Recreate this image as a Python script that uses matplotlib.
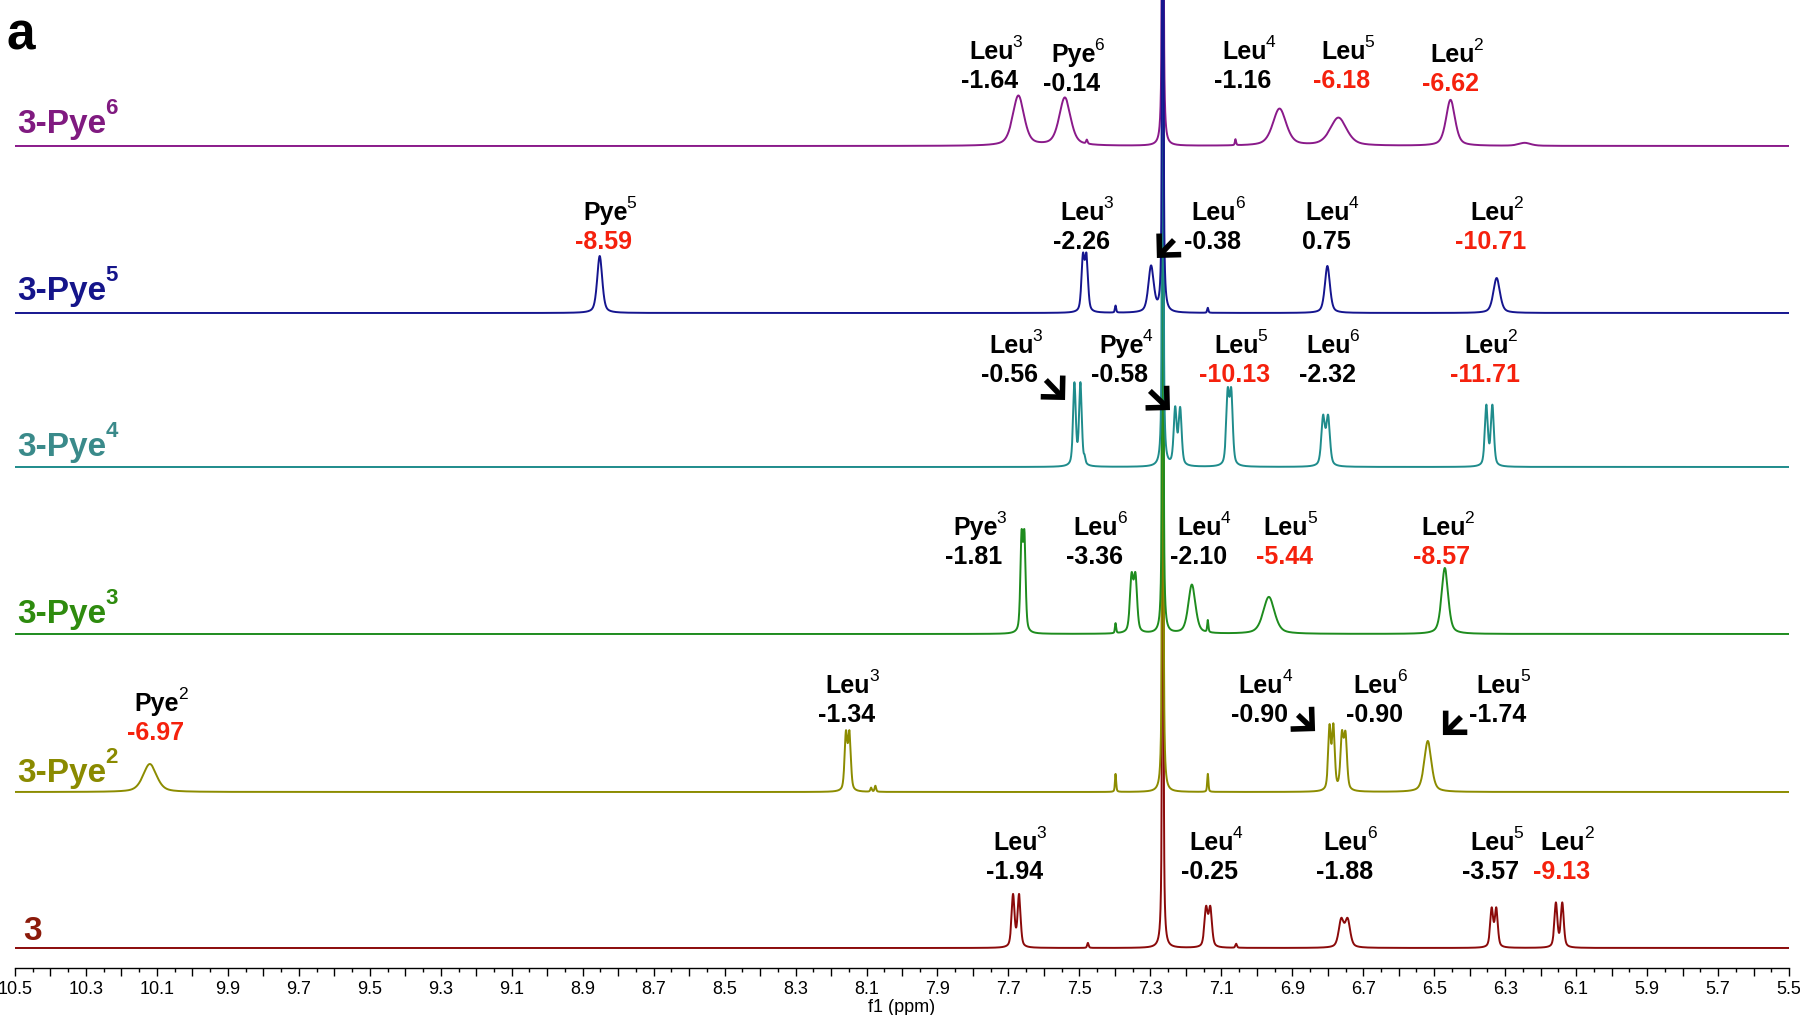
import numpy as np
import matplotlib
matplotlib.use('Agg')
import matplotlib.pyplot as plt
from matplotlib.patches import FancyArrowPatch
from matplotlib.ticker import MultipleLocator, FuncFormatter

plt.rcParams['font.family'] = ['Liberation Sans', 'DejaVu Sans']

#-- Peak tables: position (ppm), height, width (ppm)
#-- 3
ppm_3 = [7.687, 7.670, 7.476, 7.265, 7.143, 7.131, 7.058, 6.762, 6.744, 6.338, 6.325, 6.157, 6.139]
amp_3 = [52, 52, 5, 1500, 38, 38, 4, 27, 27, 38, 38, 44, 44]
fwhm_3 = [0.010, 0.010, 0.005, 0.003, 0.011, 0.011, 0.005, 0.017, 0.017, 0.010, 0.010, 0.010, 0.010]
#-- 3-Pye2
ppm_p2 = [10.12, 8.158, 8.148, 8.087, 8.075, 7.398, 7.265, 7.138, 6.795, 6.784, 6.760, 6.750, 6.518]
amp_p2 = [28, 56, 56, 4, 6, 18, 1500, 18, 62, 62, 53, 53, 51]
fwhm_p2 = [0.045, 0.009, 0.009, 0.005, 0.005, 0.004, 0.003, 0.004, 0.009, 0.009, 0.010, 0.010, 0.024]
#-- 3-Pye3
ppm_p3 = [7.663, 7.655, 7.398, 7.353, 7.342, 7.265, 7.183, 7.138, 6.966, 6.470]
amp_p3 = [92, 92, 10, 54, 54, 1500, 49, 12, 37, 66]
fwhm_p3 = [0.008, 0.008, 0.004, 0.011, 0.011, 0.003, 0.024, 0.004, 0.038, 0.022]
#-- 3-Pye4
ppm_p4 = [7.514, 7.497, 7.485, 7.265, 7.230, 7.216, 7.082, 7.072, 6.813, 6.799, 6.353, 6.336]
amp_p4 = [82, 82, 6, 1500, 56, 56, 70, 70, 48, 48, 60, 60]
fwhm_p4 = [0.009, 0.009, 0.005, 0.003, 0.010, 0.010, 0.010, 0.010, 0.012, 0.012, 0.010, 0.010]
#-- 3-Pye5
ppm_p5 = [8.852, 7.490, 7.480, 7.398, 7.298, 7.265, 7.138, 6.801, 6.324]
amp_p5 = [57, 53, 53, 7, 46, 1500, 5, 47, 35]
fwhm_p5 = [0.017, 0.010, 0.010, 0.004, 0.018, 0.003, 0.004, 0.017, 0.022]
#-- 3-Pye6
ppm_p6 = [7.672, 7.541, 7.479, 7.265, 7.060, 6.936, 6.770, 6.454, 6.245]
amp_p6 = [50, 48, 4, 1500, 6, 37, 28, 46, 3]
fwhm_p6 = [0.038, 0.038, 0.005, 0.003, 0.004, 0.045, 0.055, 0.030, 0.04]

#-- Assignments (residue, position) and shift changes
lab_3 = [('Leu', '3'), ('Leu', '4'), ('Leu', '6'), ('Leu', '5'), ('Leu', '2')]
dlt_3 = [-1.94, -0.25, -1.88, -3.57, -9.13]
lab_p2 = [('Pye', '2'), ('Leu', '3'), ('Leu', '4'), ('Leu', '6'), ('Leu', '5')]
dlt_p2 = [-6.97, -1.34, -0.90, -0.90, -1.74]
lab_p3 = [('Pye', '3'), ('Leu', '6'), ('Leu', '4'), ('Leu', '5'), ('Leu', '2')]
dlt_p3 = [-1.81, -3.36, -2.10, -5.44, -8.57]
lab_p4 = [('Leu', '3'), ('Pye', '4'), ('Leu', '5'), ('Leu', '6'), ('Leu', '2')]
dlt_p4 = [-0.56, -0.58, -10.13, -2.32, -11.71]
lab_p5 = [('Pye', '5'), ('Leu', '3'), ('Leu', '6'), ('Leu', '4'), ('Leu', '2')]
dlt_p5 = [-8.59, -2.26, -0.38, 0.75, -10.71]
lab_p6 = [('Leu', '3'), ('Pye', '6'), ('Leu', '4'), ('Leu', '5'), ('Leu', '2')]
dlt_p6 = [-1.64, -0.14, -1.16, -6.18, -6.62]

names = [('3', ''), ('3-Pye', '2'), ('3-Pye', '3'), ('3-Pye', '4'), ('3-Pye', '5'), ('3-Pye', '6')]

#-- Layout: vertical offsets, label places (ppm, baseline height), colours
offsets = [20, 176, 334, 501, 655, 822]
line_col = ['#8b0a0a', '#8c8c00', '#1e8c1e', '#1f8c8c', '#15158f', '#8a1a8a']
name_col = ['#8b1a0a', '#8a8a00', '#2e8b0e', '#3a8a8a', '#15158a', '#801a80']
name_pos = [(10.478, 28), (10.494, 186), (10.494, 345), (10.494, 512), (10.494, 668), (10.494, 835)]
lab_x = [[7.684, 7.132, 6.754, 6.340, 6.141],
         [10.105, 8.156, 6.992, 6.668, 6.322],
         [7.797, 7.457, 7.165, 6.922, 6.478],
         [7.696, 7.386, 7.062, 6.802, 6.357],
         [8.84, 7.495, 7.125, 6.805, 6.340],
         [7.752, 7.521, 7.039, 6.760, 6.453]]
lab_y = [[118] * 5,
         [257, 275, 275, 275, 275],
         [433] * 5,
         [615] * 5,
         [748] * 5,
         [909, 906, 909, 909, 906]]
#-- arrows (tail ppm, tail y, head ppm, head y)
arrows = [(7.600, 590, 7.535, 566), (7.307, 579, 7.239, 556),
          (7.228, 730, 7.287, 708), (6.890, 255, 6.830, 235),
          (6.419, 253, 6.481, 231)]

peaks = [(ppm_3, amp_3, fwhm_3), (ppm_p2, amp_p2, fwhm_p2), (ppm_p3, amp_p3, fwhm_p3),
         (ppm_p4, amp_p4, fwhm_p4), (ppm_p5, amp_p5, fwhm_p5), (ppm_p6, amp_p6, fwhm_p6)]
labels = [lab_3, lab_p2, lab_p3, lab_p4, lab_p5, lab_p6]
deltas = [dlt_3, dlt_p2, dlt_p3, dlt_p4, dlt_p5, dlt_p6]

x = np.linspace(5.5, 10.5, 50001)


def spectrum(ppm, amp, fwhm):
    #-- pseudo-Voigt lines, half Lorentzian half Gaussian
    y = np.zeros_like(x)
    for p, a, w in zip(ppm, amp, fwhm):
        u = (x - p) / (w / 2.0)
        y += a * (0.5 / (1.0 + u ** 2) + 0.5 * np.exp(-np.log(2) * u ** 2))
    return y


def sup_label(xx, yy, base, sup, size, sup_size, rise, ha, color='black', sup_weight='normal'):
    t = ax.text(xx, yy, base, fontsize=size, fontweight='bold', color=color,
                ha=ha, va='baseline', zorder=10)
    if sup:
        ax.annotate(sup, xy=(1, 0), xycoords=t, xytext=(-0.8, rise), textcoords='offset points',
                    fontsize=sup_size, fontweight=sup_weight, color=color,
                    ha='left', va='baseline', zorder=10)


fig = plt.figure(figsize=(18, 10.15), dpi=100)
ax = fig.add_axes([15 / 1800., 47 / 1015., 1774 / 1800., 968 / 1015.])

#-- navy ends up on top at the solvent line
zorders = [2, 3, 4, 5, 7, 6]
for i, (ppm, amp, fwhm) in enumerate(peaks):
    ax.plot(x, offsets[i] + spectrum(ppm, amp, fwhm), color=line_col[i], lw=1.4, zorder=zorders[i])

for i in range(6):
    sup_label(name_pos[i][0], name_pos[i][1], names[i][0], names[i][1], 24, 16, 18.5, 'left',
              color=name_col[i], sup_weight='bold')
    for (res, pos), d, lx, ly in zip(labels[i], deltas[i], lab_x[i], lab_y[i]):
        sup_label(lx - 0.004, ly, res, pos, 18, 12.5, 12.2, 'center')
        c = '#f5210d' if abs(d) > 4 else 'black'
        ax.text(lx, ly - 29, '%.2f' % d, fontsize=18, fontweight='bold', color=c,
                ha='center', va='baseline', zorder=10)

for tx, ty, hx, hy in arrows:
    ax.add_patch(FancyArrowPatch((tx, ty), (hx, hy), arrowstyle='->,head_length=0.55,head_width=0.55',
                                 mutation_scale=20, lw=4, color='black', zorder=11,
                                 joinstyle='miter', capstyle='butt'))

fig.text(6 / 1800., 1 - 50 / 1015., 'a', fontsize=37, fontweight='bold', va='baseline')

ax.set_xlim(10.5, 5.5)
ax.set_ylim(0, 968)
ax.set_yticks([])
for s in ['left', 'right', 'top']:
    ax.spines[s].set_visible(False)
ax.spines['bottom'].set_linewidth(1.0)

ax.xaxis.set_major_locator(MultipleLocator(0.1))
ax.xaxis.set_minor_locator(MultipleLocator(0.05))
ax.xaxis.set_major_formatter(FuncFormatter(lambda v, pos: '%.1f' % v if int(round(v * 10)) % 2 == 1 else ''))
ax.tick_params(axis='x', which='major', length=6, width=1, labelsize=13, pad=3)
ax.tick_params(axis='x', which='minor', length=3, width=1)
ax.set_xlabel('f1 (ppm)', fontsize=13, labelpad=1)

fig.savefig('out.png', dpi=100)
